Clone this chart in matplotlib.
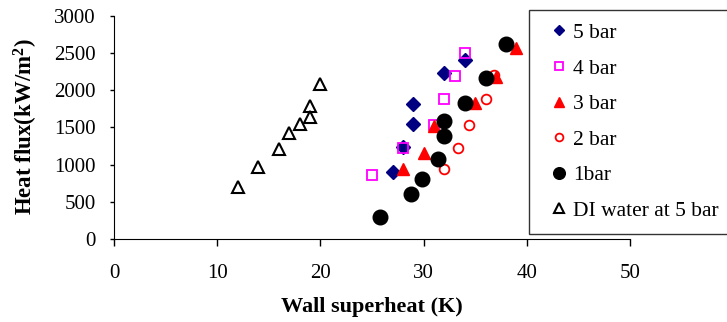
import matplotlib
matplotlib.use("Agg")
import matplotlib.pyplot as plt

plt.rcParams['font.family'] = ['Liberation Serif', 'DejaVu Serif']
plt.rcParams['mathtext.fontset'] = 'custom'
plt.rcParams['mathtext.rm'] = 'Liberation Serif'
plt.rcParams['mathtext.bf'] = 'Liberation Serif:bold'

# wall superheat (K) / heat flux (kW/m2)
x5 = [27, 28, 29, 29, 32, 34]
q5 = [900, 1240, 1550, 1815, 2230, 2410]

x4 = [25, 28, 31, 32, 33, 34]
q4 = [865, 1225, 1540, 1880, 2190, 2505]

x3 = [28, 30, 31, 35, 37, 39]
q3 = [940, 1155, 1520, 1835, 2175, 2565]

x2 = [32, 33.3, 34.4, 36, 36.8]
q2 = [940, 1225, 1540, 1880, 2205]

x1 = [25.8, 28.8, 29.8, 31.4, 32, 32, 34, 36, 38]
q1 = [290, 600, 810, 1080, 1380, 1590, 1830, 2165, 2630]

xdi = [12, 14, 16, 17, 18, 19, 19, 20]
qdi = [700, 970, 1210, 1425, 1545, 1640, 1790, 2080]

fig = plt.figure(figsize=(7.27, 3.22), dpi=100)
ax = fig.add_axes([0.1568, 0.2578, 0.7098, 0.6925])

ax.plot(x5, q5, 'D', color='#000080', ms=7, ls='none', label='5 bar')
ax.plot(x4, q4, 's', mfc='none', mec='#FF00FF', mew=1.3, ms=7.5, ls='none', label='4 bar')
ax.plot(x3, q3, '^', color='#FF0000', ms=9, ls='none', label='3 bar')
ax.plot(x2, q2, 'o', mfc='none', mec='#FF0000', mew=1.3, ms=7, ls='none', label='2 bar')
ax.plot(x1, q1, 'o', color='black', ms=10.5, ls='none', label='1bar')
ax.plot(xdi, qdi, '^', mfc='none', mec='black', mew=1.5, ms=8.5, ls='none', label='DI water at 5 bar')

ax.set_xlim(0, 50)
ax.set_ylim(0, 3000)
ax.set_xticks(range(0, 51, 10))
ax.set_yticks(range(0, 3001, 500))
ax.spines['top'].set_visible(False)
ax.spines['right'].set_visible(False)
ax.tick_params(axis='x', direction='out', length=5, width=1, labelsize=15, pad=13)
ax.tick_params(axis='y', direction='out', length=3, width=1, labelsize=15, pad=10)

fig.text(372 / 727, 1 - 307 / 322, 'Wall superheat (K)', ha='center', va='center',
         fontsize=16, fontweight='bold')
fig.text(26 / 727, 1 - 127 / 322, r'Heat flux(kW/m$\mathbf{^2}$)', ha='center', va='center',
         rotation=90, fontsize=16.5, fontweight='bold')

leg = fig.legend(loc='upper left', bbox_to_anchor=(529 / 727, 1 - 10 / 322),
                 bbox_transform=fig.transFigure, numpoints=1, markerscale=0.8,
                 fontsize=15.5, frameon=True, fancybox=False, edgecolor='black',
                 handlelength=1.6, handletextpad=-0.15, labelspacing=0.72,
                 borderpad=0.6, borderaxespad=0)
leg.get_frame().set_linewidth(1)

fig.savefig('out.png', dpi=100)
